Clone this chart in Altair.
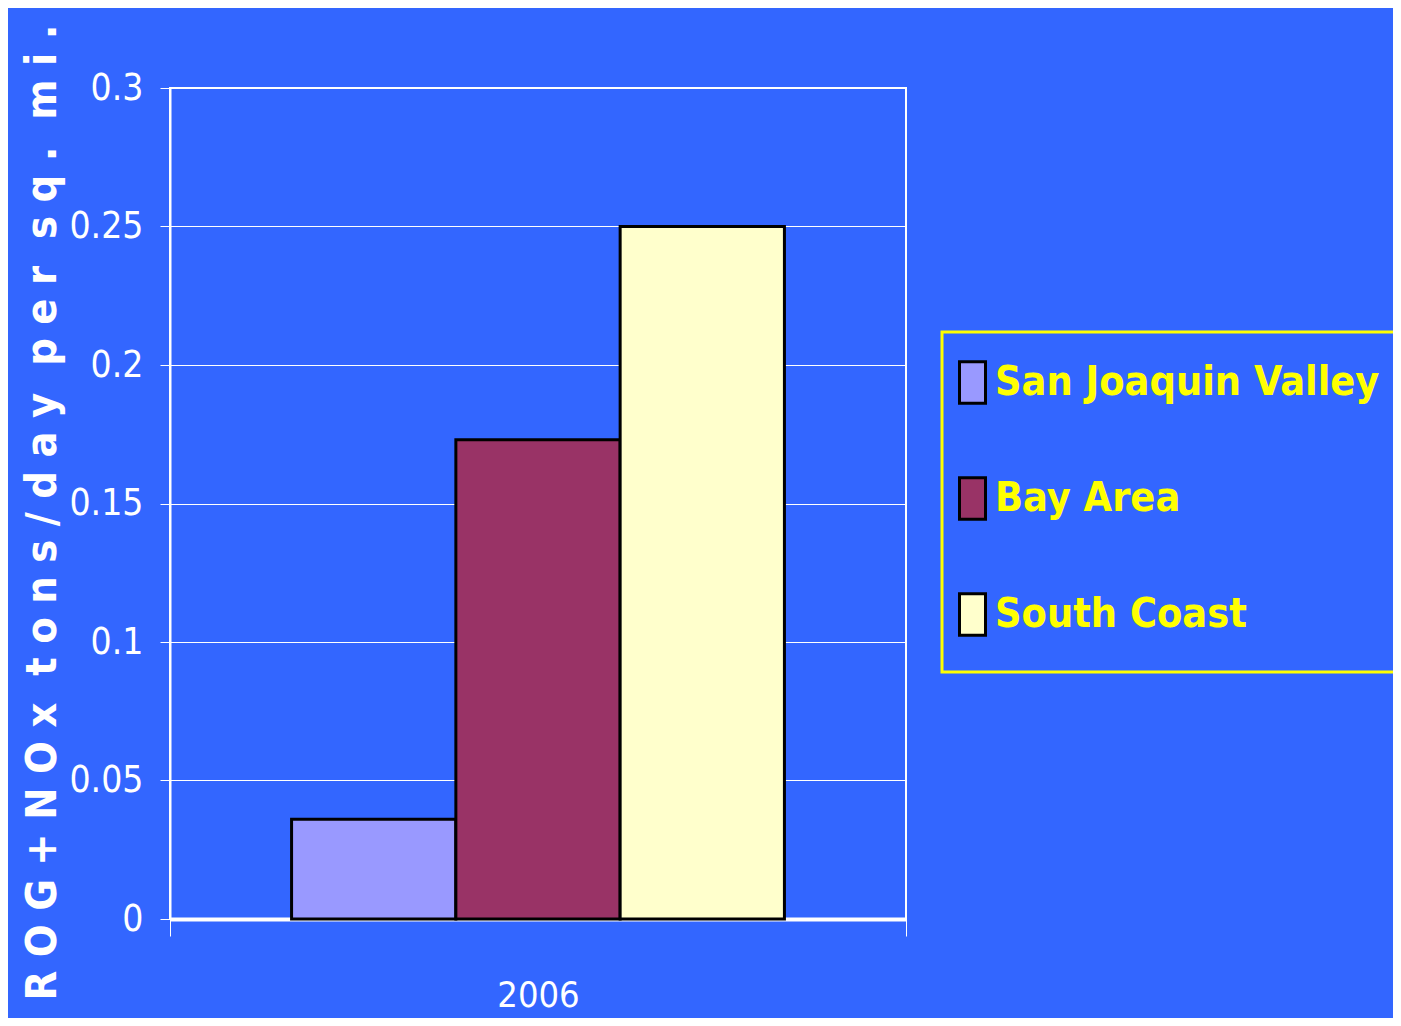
import altair as alt
import pandas as pd

regions = ["San Joaquin Valley", "Bay Area", "South Coast"]
values = [0.036, 0.173, 0.25]
years = ["2006"] * 3
colors = ["#9999FF", "#993366", "#FFFFCC"]
y_ticks = [0, 0.05, 0.1, 0.15, 0.2, 0.25, 0.3]
y_title_text = "ROG+NOx tons/day per sq. mi."

NB = "\u00a0"
spaced_title = (NB * 2).join(NB.join(w) for w in y_title_text.split(" "))

df = pd.DataFrame({"year": years, "region": regions, "value": values})

BG = "#3366FF"
NARROW = "DejaVu Sans Condensed, Liberation Sans Narrow, sans-serif"

chart = alt.Chart(df).mark_bar(stroke="black", strokeWidth=3).encode(
    x=alt.X("year:N", title=None,
            scale=alt.Scale(paddingInner=0, paddingOuter=0),
            axis=alt.Axis(labelAngle=0, labelColor="white", labelFont=NARROW,
                          labelFontSize=36, labelPadding=42, tickColor="white",
                          tickSize=17, tickWidth=1, tickBand="extent",
                          domainColor="white", domainWidth=4, grid=False)),
    xOffset=alt.XOffset("region:N", sort=regions,
                        scale=alt.Scale(paddingInner=0, paddingOuter=0.74)),
    y=alt.Y("value:Q", scale=alt.Scale(domain=[0, 0.3], nice=False),
            axis=alt.Axis(values=y_ticks, format="~g", title=spaced_title,
                          labelColor="white", labelFont=NARROW, labelFontSize=37,
                          labelPadding=17, tickColor="white", tickSize=10, tickWidth=1,
                          domainColor="white", domainWidth=2,
                          gridColor="white", gridWidth=1,
                          titleColor="white", titleFont=NARROW, titleFontSize=43,
                          titleFontWeight="bold", titleAngle=270,
                          titleX=-128, titleY=424, titleAlign="center",
                          titleBaseline="middle")),
    color=alt.Color("region:N", sort=regions,
                    scale=alt.Scale(domain=regions, range=colors),
                    legend=alt.Legend(title=None, orient="none", legendX=772, legendY=244,
                                      strokeColor="#FFFF00", padding=30,
                                      symbolType="M-1,-1.6H1V1.6H-1Z",
                                      symbolSize=676, symbolStrokeColor="black",
                                      symbolStrokeWidth=3, symbolOffset=-20,
                                      labelOffset=2, labelColor="#FFFF00",
                                      labelFont=NARROW, labelFontSize=41,
                                      labelFontWeight="bold", labelLimit=1000,
                                      rowPadding=61)),
).properties(
    width=736, height=831,
    autosize=alt.AutoSizeParams(type="none"),
    padding={"left": 162, "top": 80, "right": 487, "bottom": 99},
    background=BG,
).configure_view(
    stroke="white", strokeWidth=2
).configure_legend(
    strokeWidth=3
)

chart.save("out.html", embed_options={"renderer": "svg", "actions": False})
